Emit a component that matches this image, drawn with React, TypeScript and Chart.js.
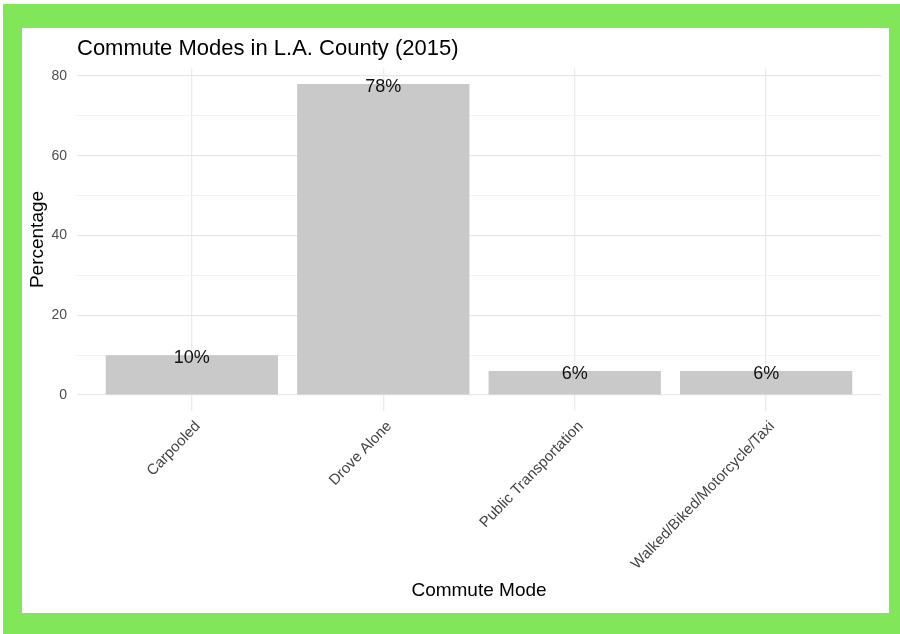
import React, { useEffect, useRef } from 'react';
import { Chart, registerables } from 'chart.js';

Chart.register(...registerables);

const chartTitle = 'Commute Modes in L.A. County (2015)';
const xAxisTitle = 'Commute Mode';
const yAxisTitle = 'Percentage';
const categories = ['Carpooled', 'Drove Alone', 'Public Transportation', 'Walked/Biked/Motorcycle/Taxi'];
const percentages = [10, 78, 6, 6];
const yTicks = [0, 10, 20, 30, 40, 50, 60, 70, 80];
const labeledYTicks = [0, 20, 40, 60, 80];

const FONT = '"Liberation Sans", Arial, Helvetica, sans-serif';

export default function App() {
  const ref = useRef<HTMLCanvasElement>(null);

  useEffect(() => {
    const canvas = ref.current;
    if (!canvas) return;

    const titlePlugin = {
      id: 'plotTitle',
      afterDraw(chart: any) {
        const { ctx, chartArea } = chart;
        ctx.save();
        ctx.font = `22px ${FONT}`;
        ctx.fillStyle = '#000000';
        ctx.textAlign = 'left';
        ctx.textBaseline = 'alphabetic';
        ctx.fillText(chartTitle, chartArea.left, 27);
        ctx.restore();
      },
    };

    const labelPlugin = {
      id: 'barLabels',
      afterDatasetsDraw(chart: any) {
        const { ctx } = chart;
        const meta = chart.getDatasetMeta(0);
        ctx.save();
        ctx.font = `18px ${FONT}`;
        ctx.fillStyle = '#111111';
        ctx.textAlign = 'center';
        ctx.textBaseline = 'alphabetic';
        meta.data.forEach((bar: any, i: number) => {
          ctx.fillText(`${percentages[i]}%`, bar.x, bar.y + 8);
        });
        ctx.restore();
      },
    };

    const chart = new Chart(canvas, {
      type: 'bar',
      data: {
        datasets: [
          {
            data: categories.map((_, i) => ({ x: i + 1, y: percentages[i] })),
            backgroundColor: '#c9c9c9',
            borderWidth: 0,
            barPercentage: 0.9,
            categoryPercentage: 1,
          },
        ],
      },
      options: {
        animation: false,
        responsive: false,
        layout: { padding: { top: 40.4, right: 8, bottom: 0, left: 0 } },
        plugins: {
          legend: { display: false },
          tooltip: { enabled: false },
          title: { display: false },
        },
        scales: {
          x: {
            type: 'linear',
            min: 0.4,
            max: 4.6,
            bounds: 'data',
            offset: false,
            afterBuildTicks: (s: any) => {
              s.ticks = categories.map((_, i) => ({ value: i + 1 }));
            },
            afterFit: (s: any) => {
              s.height = 202.4;
            },
            ticks: {
              callback: (v: any) => categories[Math.round(Number(v)) - 1] ?? '',
              minRotation: 46,
              maxRotation: 46,
              autoSkip: false,
              padding: 7,
              labelOffset: 6,
              color: '#444444',
              font: { size: 15, family: FONT },
            },
            grid: { color: '#ebebeb', lineWidth: 1.3, drawTicks: false, offset: false },
            border: { display: false },
            title: {
              display: true,
              text: xAxisTitle,
              color: '#000000',
              font: { size: 19, family: FONT },
              padding: { top: 0, bottom: 11 },
            },
          },
          y: {
            type: 'linear',
            min: -3.9,
            max: 81.9,
            bounds: 'data',
            afterBuildTicks: (s: any) => {
              s.ticks = yTicks.map((v) => ({ value: v }));
            },
            afterFit: (s: any) => {
              s.width = 55;
            },
            ticks: {
              callback: (v: any) => (labeledYTicks.includes(Number(v)) ? String(v) : ''),
              padding: 10,
              color: '#4d4d4d',
              font: { size: 14, family: FONT },
            },
            grid: {
              color: (c: any) => (labeledYTicks.includes(c.tick?.value) ? '#e8e8e8' : '#f0f0f0'),
              lineWidth: (c: any) => (labeledYTicks.includes(c.tick?.value) ? 1.3 : 0.9),
              drawTicks: false,
            },
            border: { display: false },
            title: {
              display: true,
              text: yAxisTitle,
              color: '#000000',
              font: { size: 19, family: FONT },
              padding: { top: 4, bottom: 0 },
            },
          },
        },
      } as any,
      plugins: [titlePlugin, labelPlugin],
    });

    return () => chart.destroy();
  }, []);

  return (
    <div style={{ position: 'fixed', left: 0, top: 0, width: 900, height: 634, background: '#ffffff' }}>
      <div style={{ position: 'absolute', left: 3, top: 4, right: 0, bottom: 0, background: '#82e65a' }} />
      <div style={{ position: 'absolute', left: 22, top: 28, width: 867, height: 585, background: '#ffffff' }}>
        <canvas ref={ref} width={867} height={585} style={{ display: 'block', width: 867, height: 585 }} />
      </div>
    </div>
  );
}
